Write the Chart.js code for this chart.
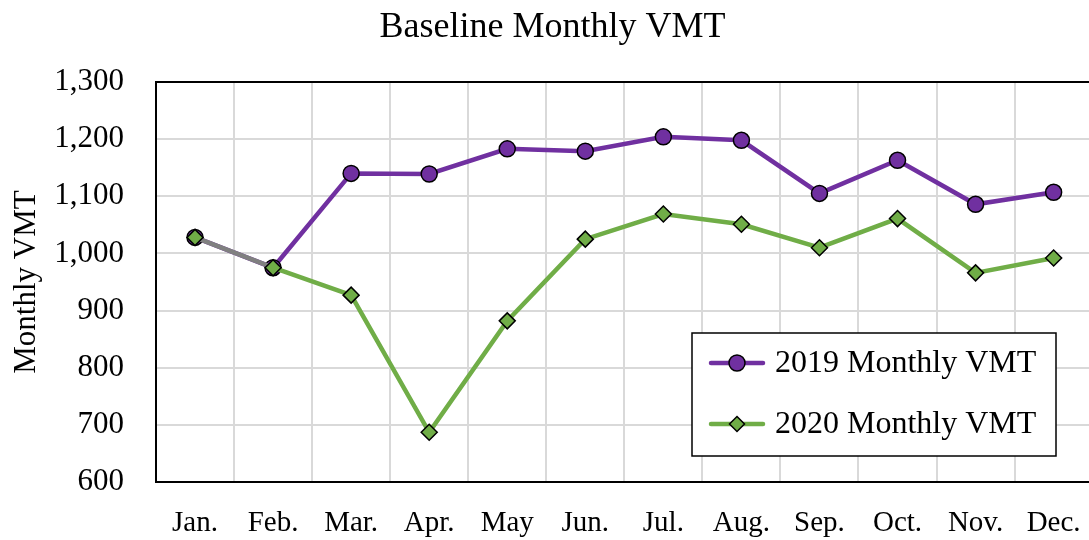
<!DOCTYPE html>
<html>
<head>
<meta charset="utf-8">
<script src="https://cdn.jsdelivr.net/npm/chart.js@4"></script>
<style>
  html, body { margin: 0; padding: 0; overflow: hidden; background: #fff; }
  #wrap { width: 1089px; height: 540px; overflow: hidden; }
</style>
</head>
<body>
<div id="wrap"><canvas id="myChart" width="1105" height="540"></canvas></div>
<script>
let months = ["Jan.", "Feb.", "Mar.", "Apr.", "May", "Jun.", "Jul.", "Aug.", "Sep.", "Oct.", "Nov.", "Dec."];
let vmt2019 = [1028, 975, 1140, 1139, 1183, 1179, 1204, 1198, 1105, 1163, 1086, 1107];
let vmt2020 = [1028, 975, 927, 687, 882, 1025, 1069, 1051, 1010, 1061, 966, 992];
let yTicks = [600, 700, 800, 900, 1000, 1100, 1200, 1300];

const FONT = "'Liberation Serif', 'DejaVu Serif', serif";
const PURPLE = '#7030a0';
const GREEN = '#70ad47';

// frame round the plot area
const frame = {
  id: 'frame',
  afterDatasetsDraw(chart) {
    const a = chart.chartArea, ctx = chart.ctx;
    ctx.save();
    ctx.strokeStyle = '#000';
    ctx.lineWidth = 2;
    ctx.strokeRect(a.left, a.top, a.right - a.left, a.bottom - a.top);
    ctx.restore();
  }
};

// legend box inside the plot
const boxLegend = {
  id: 'boxLegend',
  afterDraw(chart) {
    const ctx = chart.ctx;
    const x = 692, y = 333, w = 364, h = 123;
    ctx.save();
    ctx.fillStyle = '#fff';
    ctx.fillRect(x, y, w, h);
    ctx.strokeStyle = '#000';
    ctx.lineWidth = 1.5;
    ctx.strokeRect(x, y, w, h);
    chart.data.datasets.forEach((ds, i) => {
      const cy = y + 30 + i * 61;
      ctx.strokeStyle = ds.borderColor;
      ctx.lineWidth = 4.5;
      ctx.lineCap = 'round';
      ctx.beginPath();
      ctx.moveTo(711, cy);
      ctx.lineTo(763, cy);
      ctx.stroke();
      ctx.fillStyle = ds.pointBackgroundColor;
      ctx.strokeStyle = '#000';
      ctx.lineWidth = 1.5;
      ctx.beginPath();
      if (ds.pointStyle === 'rectRot') {
        const r = 7.5;
        ctx.moveTo(737, cy - r); ctx.lineTo(737 + r, cy); ctx.lineTo(737, cy + r); ctx.lineTo(737 - r, cy); ctx.closePath();
      } else {
        ctx.arc(737, cy, 8, 0, Math.PI * 2);
      }
      ctx.fill();
      ctx.stroke();
      ctx.fillStyle = '#000';
      ctx.font = '32px ' + FONT;
      ctx.textBaseline = 'middle';
      ctx.textAlign = 'left';
      ctx.fillText(ds.label, 775, cy + 1);
    });
    ctx.restore();
  }
};

function createChart() {
  const ctx = document.getElementById('myChart').getContext('2d');
  new Chart(ctx, {
    type: 'line',
    data: {
      labels: months,
      datasets: [{
        label: '2019 Monthly VMT',
        data: vmt2019,
        borderColor: PURPLE,
        borderWidth: 4.5,
        pointStyle: 'circle',
        pointRadius: 8,
        pointBackgroundColor: PURPLE,
        pointBorderColor: '#000',
        pointBorderWidth: 1.5,
        order: 2,
        tension: 0
      }, {
        label: '2020 Monthly VMT',
        data: vmt2020,
        borderColor: GREEN,
        borderWidth: 4.5,
        pointStyle: 'rectRot',
        pointRadius: 8,
        pointBackgroundColor: GREEN,
        pointBorderColor: '#000',
        pointBorderWidth: 1.5,
        order: 1,
        tension: 0,
        segment: {
          borderColor: c => c.p0DataIndex === 0 ? '#808080' : undefined
        }
      }]
    },
    options: {
      responsive: false,
      devicePixelRatio: 1,
      animation: false,
      layout: { padding: { left: 0, right: 0, top: 0, bottom: 0 } },
      plugins: {
        legend: { display: false },
        tooltip: { enabled: false },
        title: {
          display: true,
          text: 'Baseline Monthly VMT',
          color: '#000',
          font: { family: FONT, size: 36, weight: 'normal' },
          padding: { top: 6, bottom: 32.8 }
        }
      },
      scales: {
        x: {
          offset: true,
          grid: { offset: true, color: '#d9d9d9', lineWidth: 2, drawTicks: false },
          border: { display: false },
          ticks: { color: '#000', font: { family: FONT, size: 29 }, padding: 24, maxRotation: 0, autoSkip: false },
          afterFit: s => { s.height = 58; }
        },
        y: {
          min: 600,
          max: 1300,
          afterBuildTicks: s => { s.ticks = yTicks.map(v => ({ value: v })); },
          grid: { color: '#d9d9d9', lineWidth: 2, drawTicks: false },
          border: { display: false },
          ticks: {
            color: '#000',
            font: { family: FONT, size: 31 },
            padding: 32,
            callback: v => v.toLocaleString('en-US')
          },
          title: {
            display: true,
            text: 'Monthly VMT',
            color: '#000',
            font: { family: FONT, size: 31 },
            padding: { top: 8, bottom: 0 }
          },
          afterFit: s => { s.width = 156; }
        }
      }
    },
    plugins: [frame, boxLegend]
  });
}

window.onload = createChart;
</script>
</body>
</html>
